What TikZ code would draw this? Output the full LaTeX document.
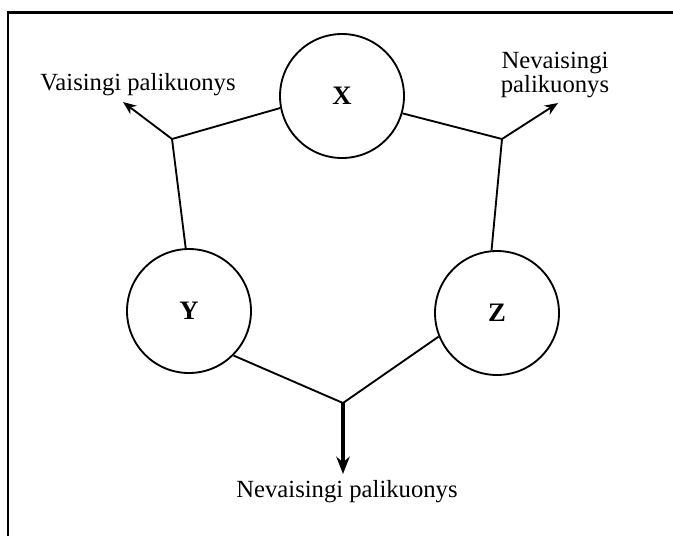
\documentclass[tikz,border=0pt]{standalone}
\usepackage{fontspec}
\setmainfont{Liberation Serif}
\usetikzlibrary{arrows.meta}

\tikzset{
  ind/.style={circle, draw, line width=1.4pt, minimum size=93pt, inner sep=0pt,
    font=\fontsize{20}{22}\selectfont\bfseries},
  lbl/.style={font=\fontsize{18.5}{16.5}\selectfont, align=center, inner sep=0pt},
}

\begin{document}
\begin{tikzpicture}[x=0.75pt, y=-0.75pt, line width=1.4pt,
  >={Stealth[length=10pt,width=8pt]}]
\useasboundingbox (0,0) rectangle (673,536);
\draw[line width=1.6pt] (8,536) -- (8,12.5) -- (673,12.5);

\node[ind] (x) at (342,96) {X};
\node[ind] (y) at (189,311) {Y};
\node[ind] (z) at (497,313) {Z};

\coordinate (j1) at (172,139);
\coordinate (j2) at (502,139);
\coordinate (j3) at (343,403);

\coordinate (t1) at (123,102);
\coordinate (t2) at (558,103);
\coordinate (t3) at (343,474);

\node[lbl] (v) at (138,85) {Vaisingi palikuonys};
\node[lbl] (n1) at (555,75) {Nevaisingi\\palikuonys};
\node[lbl] (n2) at (347,492) {Nevaisingi palikuonys};

\path
(x.191) edge (j1)
(x.-16) edge (j2)
(y.93) edge (j1)
(z.95) edge (j2)
(y.-45) edge (j3)
(z.202) edge (j3)
(j1) edge[->] (t1)
(j2) edge[->] (t2)
(j3) edge[->, line width=2.6pt, >={Stealth[length=13pt,width=10pt]}] (t3);
\end{tikzpicture}
\end{document}
